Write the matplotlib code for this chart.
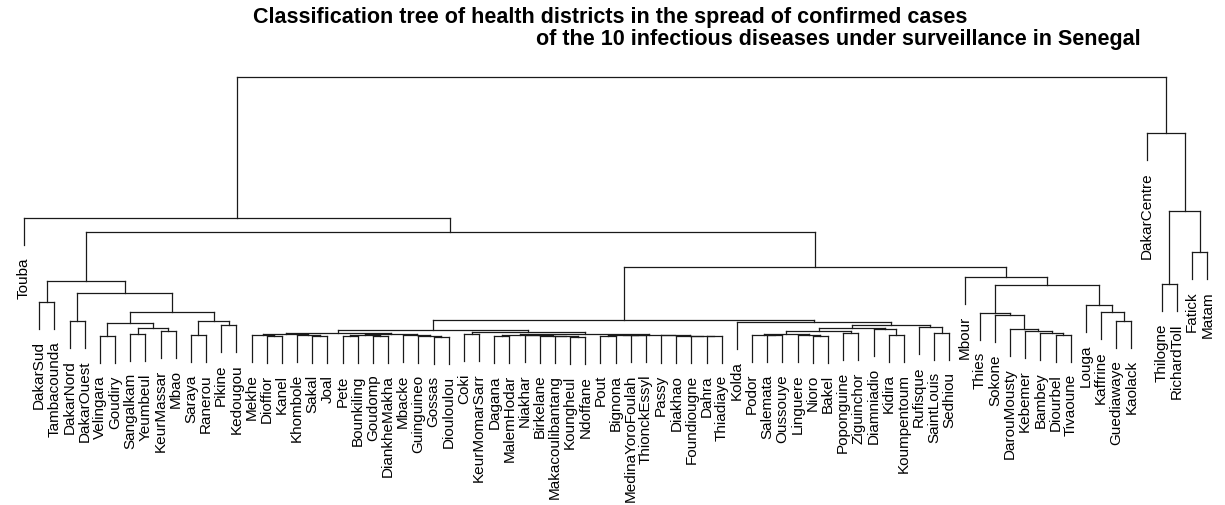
import matplotlib
matplotlib.use("Agg")
import matplotlib.pyplot as plt

plt.rcParams['font.family'] = ['Liberation Sans', 'DejaVu Sans']

# classification tree: (left, right, merge height), leaves are health districts
dakar_ouest_side = (('Velingara', 'Goudiry', 1.3),
                    (('Sangalkam', 'Yeumbeul', 1.5), ('KeurMassar', 'Mbao', 1.8), 2.1), 2.6)
south_east = (('Saraya', 'Ranerou', 1.4), ('Pikine', 'Kedougou', 2.4), 2.8)
grp_dakar = (('DakarSud', 'Tambacounda', 4.7),
             (('DakarNord', 'DakarOuest', 2.8), (dakar_ouest_side, south_east, 3.7), 5.6), 6.8)

grp_p = (('Mekhe', ('Dioffior', 'Kanel', 1.3), 1.45),
         ('Khombole', ('Sakal', 'Joal', 1.3), 1.45), 1.5)
grp_q = ((('Pete', 'Bounkiling', 1.3), ('Goudomp', 'DiankheMakha', 1.35), 1.4),
         ('Mbacke', ('Guinguineo', ('Gossas', 'Diouloulou', 1.2), 1.3), 1.4), 1.5)
grp_v = (('Dagana', 'MalemHodar', 1.3),
         ('Niakhar', ('Birkelane', ('Makacoulibantang', ('Koungheul', 'Ndoffane', 1.25), 1.3), 1.35), 1.4), 1.45)
grp_w = ((('Pout', 'Bignona', 1.35), ('MedinaYoroFoulah', 'ThionckEssyl', 1.4), 1.42),
         ('Passy', ('Diakhao', ('Foundiougne', ('Dahra', 'Thiadiaye', 1.3), 1.32), 1.34), 1.36), 1.44)
grp_e = ((grp_p, grp_q, 1.6), (('Coki', 'KeurMomarSarr', 1.5), (grp_v, grp_w, 1.5), 1.7), 1.9)

grp_l = (('Podor', ('Salemata', 'Oussouye', 1.4), 1.45),
         ('Linguere', ('Nioro', 'Bakel', 1.35), 1.4), 1.5)
grp_h = ((grp_l, ('Poponguine', 'Ziguinchor', 1.6), 1.8),
         ('Diamniadio', ('Kidira', 'Koumpentoum', 1.45), 2.0), 2.1)
grp_f = ('Kolda', (grp_h, ('Rufisque', ('SaintLouis', 'Sedhiou', 1.6), 2.2), 2.45), 2.7)

grp_centre = ('Thies', ('Sokone', ('DarouMousty', ('Kebemer', ('Bambey', ('Diourbel', 'Tivaoune', 1.4), 1.6), 1.8), 2.0), 3.4), 3.6)
grp_north = ('Louga', ('Kaffrine', ('Guediawaye', 'Kaolack', 2.8), 3.7), 4.4)
grp_d = ('Mbour', (grp_centre, grp_north, 6.4), 7.2)

left_tree = ('Touba', (grp_dakar, ((grp_e, grp_f, 2.9), grp_d, 8.2), 11.7), 13.1)
right_tree = ('DakarCentre', (('Thilogne', 'RichardToll', 6.5), ('Fatick', 'Matam', 9.7), 13.8), 21.6)
tree = (left_tree, right_tree, 27.2)

hang = 0.1 * tree[2]
title1 = "Classification tree of health districts in the spread of confirmed cases"
title2 = "of the 10 infectious diseases under surveillance in Senegal"

fig = plt.figure(figsize=(12.25, 5.06), dpi=100)
ax = fig.add_axes([0, 0, 1, 1])
ax.set_xlim(-24 / 15.17, (1225 - 24) / 15.17)
ax.set_ylim(-15.6, 35.0)
ax.axis('off')

order = []
lc = '#1a1a1a'


def draw(node):
    if isinstance(node, str):
        order.append(node)
        return len(order) - 1, None
    left, right, h = node
    xl, hl = draw(left)
    xr, hr = draw(right)
    for x, hc, name in ((xl, hl, left), (xr, hr, right)):
        if hc is None:
            bottom = h - hang
            ax.plot([x, x], [bottom, h], color=lc, lw=0.9)
            ax.text(x, bottom - 1.1, name, rotation=90, ha='center', va='top', fontsize=11)
        else:
            ax.plot([x, x], [hc, h], color=lc, lw=0.9)
    ax.plot([xl, xr], [h, h], color=lc, lw=0.9)
    return (xl + xr) / 2, h


draw(tree)

fig.text(253 / 1225, 1 - 18 / 506, title1, ha='left', va='center', fontsize=15.5, fontweight='bold')
fig.text(1141 / 1225, 1 - 39 / 506, title2, ha='right', va='center', fontsize=15.5, fontweight='bold')

fig.savefig('out.png', dpi=100)
